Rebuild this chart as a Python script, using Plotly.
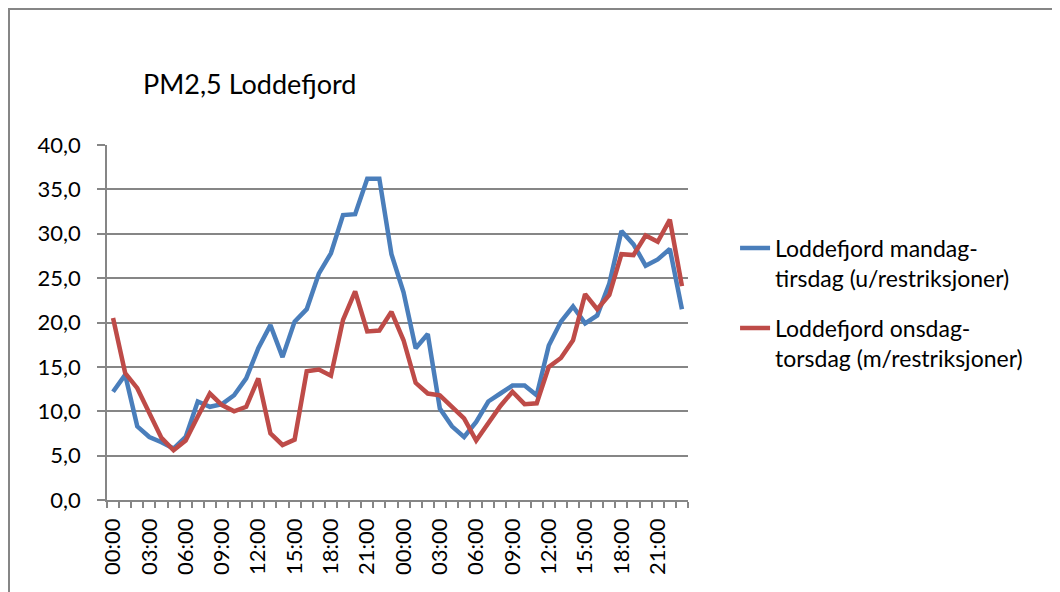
import plotly.graph_objects as go

# two days, hourly
hours = ["%02d:00" % h for h in range(24)] * 2
idx = list(range(len(hours)))

mandag_tirsdag = [12.2, 14.1, 8.3, 7.1, 6.5, 5.8, 7.1, 11.1, 10.5, 10.8, 11.8, 13.7,
                  17.1, 19.7, 16.1, 20.1, 21.5, 25.5, 27.8, 32.1, 32.2, 36.2, 36.2, 27.7,
                  23.4, 17.1, 18.7, 10.3, 8.3, 7.1, 8.8, 11.1, 12.0, 12.9, 12.9, 11.8,
                  17.4, 20.1, 21.8, 19.9, 20.8, 24.4, 30.3, 28.8, 26.4, 27.1, 28.3, 21.5]
onsdag_torsdag = [20.5, 14.3, 12.6, 9.8, 7.0, 5.6, 6.7, 9.4, 12.0, 10.7, 10.0, 10.5,
                  13.7, 7.5, 6.2, 6.8, 14.5, 14.7, 14.0, 20.3, 23.5, 19.0, 19.1, 21.2,
                  18.0, 13.2, 12.0, 11.8, 10.5, 9.2, 6.7, 8.6, 10.6, 12.2, 10.8, 10.9,
                  15.0, 16.0, 18.0, 23.2, 21.5, 23.1, 27.7, 27.6, 29.8, 29.1, 31.6, 24.1]

font = "Lato, 'Open Sans', sans-serif"
grey = "#868686"

# page body has an 8px margin, so the figure is a bit smaller than the window
W, H = 1052, 584

fig = go.Figure()
fig.add_trace(go.Scatter(x=idx, y=mandag_tirsdag, mode="lines", legendgroup="a",
                         name="Loddefjord mandag-<br>tirsdag (u/restriksjoner)",
                         line=dict(color="#4A7EBB", width=4.5)))
fig.add_trace(go.Scatter(x=idx, y=onsdag_torsdag, mode="lines", legendgroup="b",
                         name="Loddefjord onsdag-<br>torsdag (m/restriksjoner)",
                         line=dict(color="#BE4B48", width=4.5)))

fig.update_layout(
    width=W, height=H,
    margin=dict(l=99, r=372, t=137, b=92, autoexpand=False),
    paper_bgcolor="white", plot_bgcolor="white",
    separators=", ",
    font=dict(family=font, size=22, color="black"),
    title=dict(text="PM2,5 Loddefjord", xref="container", yref="container",
               x=135 / W, xanchor="left", y=1 - 77 / H, yanchor="middle",
               font=dict(family=font, size=27, color="black")),
    legend=dict(x=1.081, xanchor="left", y=0.77, yanchor="top", valign="top",
                font=dict(family=font, size=23), tracegroupgap=17,
                bgcolor="rgba(0,0,0,0)"),
    # chart-area frame (only left and top edges fall inside the picture)
    shapes=[dict(type="rect", xref="paper", yref="paper",
                 x0=-98 / 581, x1=2, y0=-1, y1=491 / 355,
                 line=dict(color=grey, width=2), fillcolor="rgba(0,0,0,0)", layer="below")],
)

fig.update_xaxes(range=[-0.5, 47.5], showgrid=False, zeroline=False, automargin=False,
                 showline=True, linecolor=grey, linewidth=1.5,
                 tickvals=idx[::3], ticktext=hours[::3], tickangle=-90,
                 ticks="", tickfont=dict(size=22), ticklabelstandoff=8,
                 minor=dict(tickvals=[i - 0.5 for i in idx] + [47.5], ticks="outside",
                            ticklen=6, tickcolor=grey, tickwidth=1.5, showgrid=False))
fig.update_yaxes(range=[0, 40], dtick=5, tickformat=".1f", showgrid=True, automargin=False,
                 gridcolor=grey, gridwidth=1.5, zeroline=False,
                 showline=True, linecolor=grey, linewidth=1.5,
                 ticks="outside", ticklen=8, tickcolor=grey, tickwidth=1.5,
                 tickfont=dict(size=22), ticklabelstandoff=12)

fig.write_html("out.html")
